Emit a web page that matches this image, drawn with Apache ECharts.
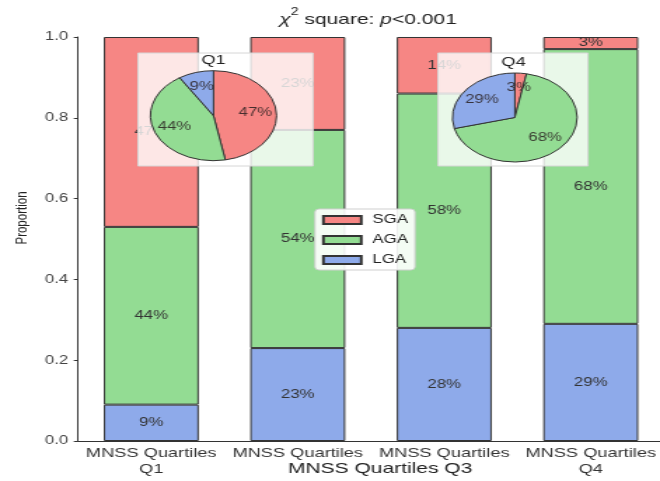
<!DOCTYPE html>
<html>
<head>
<meta charset="utf-8">
<script src="https://cdn.jsdelivr.net/npm/echarts@6/dist/echarts.min.js"></script>
<style>
  html, body { margin: 0; padding: 0; background: #fff; overflow: hidden; }
  #wrap { width: 660px; height: 481px; overflow: hidden; position: relative; }
  #chart { height: 481px; transform-origin: 0 0; }
</style>
</head>
<body>
<div id="wrap"><div id="chart"></div></div>
<script>
// Birth-weight class proportions by MNSS quartile
const categories = ['Q1', 'Q2', 'Q3', 'Q4'];
const xTickLabels = ['MNSS Quartiles\nQ1', 'MNSS Quartiles', 'MNSS Quartiles', 'MNSS Quartiles\nQ4'];
const groupNames = ['SGA', 'AGA', 'LGA'];
const lga = [0.09, 0.23, 0.28, 0.29];
const aga = [0.44, 0.54, 0.58, 0.68];
const sga = [0.47, 0.23, 0.14, 0.03];
const pieQ1 = [0.47, 0.44, 0.09];   // SGA, AGA, LGA
const pieQ4 = [0.03, 0.68, 0.29];   // SGA, AGA, LGA
const yTicks = [0, 0.2, 0.4, 0.6, 0.8, 1.0];

// The figure is laid out on a narrower canvas and widened horizontally.
const PAGE_W = 660;
const BASE_W = 471;
const S = PAGE_W / BASE_W;
const u = px => px / S;

const el = document.getElementById('chart');
el.style.width = BASE_W + 'px';
el.style.transform = 'scaleX(' + S + ')';

const colors = { SGA: '#f68684', AGA: '#93dc93', LGA: '#8eaaea' };
const pct = p => Math.round(p.value * 100) + '%';
const font = '"Liberation Sans", Arial, sans-serif';

function barSeries(name, values) {
  return {
    name: name,
    type: 'bar',
    stack: 'share',
    data: values,
    barWidth: u(95),
    itemStyle: { color: colors[name], borderColor: '#333', borderWidth: 1 },
    label: { show: true, position: 'inside', formatter: pct, color: '#333', fontSize: 12 },
    emphasis: { disabled: true },
    z: 2
  };
}

function pieSeries(values, cx, cy, r) {
  const data = groupNames.map((n, i) => ({ name: n, value: values[i] }));
  const palette = groupNames.map(n => colors[n]);
  return [{
    type: 'pie',
    center: [u(cx), cy],
    radius: [0, r],
    startAngle: 90,
    clockwise: true,
    avoidLabelOverlap: false,
    color: palette,
    data: data,
    itemStyle: { borderColor: '#333', borderWidth: 1 },
    label: { show: false },
    labelLine: { show: false },
    silent: true,
    z: 60
  }, {
    // percentage labels placed at 60% of the radius
    type: 'pie',
    center: [u(cx), cy],
    radius: [r * 0.2, r],
    startAngle: 90,
    clockwise: true,
    avoidLabelOverlap: false,
    data: data,
    itemStyle: { color: 'rgba(0,0,0,0)', borderWidth: 0 },
    label: { show: true, position: 'inside', formatter: pct, color: 'rgba(40,30,30,0.85)', fontSize: 12 },
    labelLine: { show: false },
    silent: true,
    z: 61
  }];
}

function insetBox(x0, x1, y0, y1) {
  return {
    type: 'rect',
    shape: { x: u(x0), y: y0, width: u(x1) - u(x0), height: y1 - y0 },
    style: { fill: 'rgba(255,255,255,0.8)', stroke: '#d6d6d6', lineWidth: 1 },
    z: 50
  };
}

const chart = echarts.init(el);
chart.setOption({
  animation: false,
  textStyle: { fontFamily: font },
  grid: { left: u(78), top: 37, width: u(586), height: 404, containLabel: false, outerBoundsMode: 'none' },
  legend: {
    data: groupNames,
    orient: 'vertical',
    left: u(315),
    top: 209,
    padding: [5, 5, 4, 5],
    itemWidth: 27,
    itemHeight: 8,
    itemGap: 8,
    icon: 'rect',
    backgroundColor: 'rgba(255,255,255,0.9)',
    borderColor: '#cfcfcf',
    borderWidth: 1,
    borderRadius: 3,
    textStyle: { fontSize: 12, color: '#222', padding: [0, 0, 0, 3] },
    z: 70
  },
  xAxis: {
    type: 'category',
    data: categories,
    name: 'MNSS Quartiles Q3',
    nameLocation: 'middle',
    nameGap: 20,
    nameMoveOverlap: false,
    nameTextStyle: { fontSize: 15, color: '#222', padding: [0, 0, 0, 13] },
    axisLine: { lineStyle: { color: '#333' } },
    axisTick: { alignWithLabel: true, length: 4, lineStyle: { color: '#333' } },
    axisLabel: {
      interval: 0,
      hideOverlap: false,
      formatter: (v, i) => xTickLabels[i],
      fontSize: 13, lineHeight: 16, color: '#333', margin: 4
    }
  },
  yAxis: {
    type: 'value',
    min: 0, max: 1, interval: 0.2,
    name: 'Proportion',
    nameLocation: 'middle',
    nameRotate: 90,
    nameGap: 34,
    nameMoveOverlap: false,
    nameTextStyle: { fontSize: 11.5, color: '#222', padding: [0, 0, 0, 42] },
    axisLine: { show: true, lineStyle: { color: '#333' } },
    axisTick: { show: true, length: 3, lineStyle: { color: '#333' } },
    axisLabel: {
      formatter: v => yTicks.includes(Math.round(v * 10) / 10) ? v.toFixed(1) : '',
      fontSize: 12, color: '#444', margin: 7
    },
    splitLine: { show: false }
  },
  graphic: [
    insetBox(138, 313, 53, 166),
    insetBox(438, 588, 53, 166),
    { type: 'text', x: u(213.5), y: 60, z: 62,
      style: { text: 'Q1', fill: '#222', font: '13px ' + font, textAlign: 'center', textVerticalAlign: 'middle' } },
    { type: 'text', x: u(513.5), y: 62, z: 62,
      style: { text: 'Q4', fill: '#222', font: '13px ' + font, textAlign: 'center', textVerticalAlign: 'middle' } },
    { type: 'text', x: u(368), y: 17, z: 100,
      style: {
        text: '{it|χ}{sup|2}{n| square: }{it|p}{n|<0.001}',
        textAlign: 'center', textVerticalAlign: 'middle',
        rich: {
          it: { fontStyle: 'italic', fontSize: 15, fontFamily: font, fill: '#222', lineHeight: 20, verticalAlign: 'bottom' },
          sup: { fontSize: 10, fontFamily: font, fill: '#222', lineHeight: 20, verticalAlign: 'top' },
          n: { fontSize: 15, fontFamily: font, fill: '#222', lineHeight: 20, verticalAlign: 'bottom' }
        }
      } }
  ],
  series: [
    barSeries('LGA', lga),
    barSeries('AGA', aga),
    barSeries('SGA', sga),
    ...pieSeries(pieQ1, 213.5, 115.7, 45),
    ...pieSeries(pieQ4, 514.8, 117.5, 44.5)
  ]
});
</script>
</body>
</html>
